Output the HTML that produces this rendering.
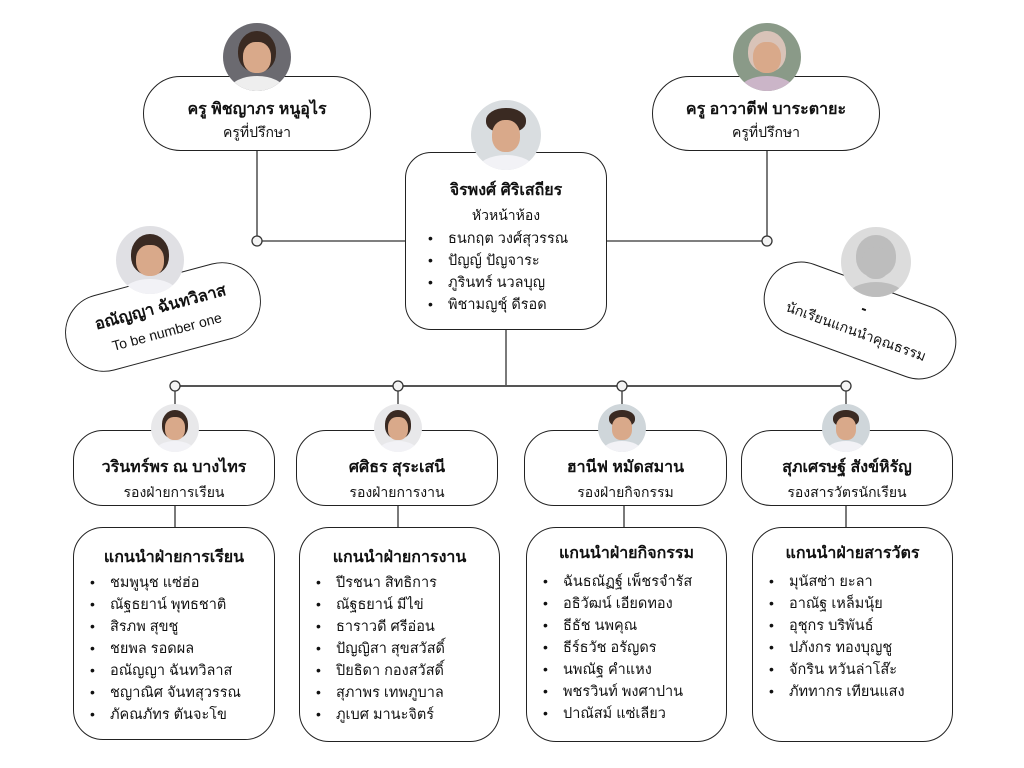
<!DOCTYPE html>
<html><head><meta charset="utf-8"><style>
body{margin:0;width:1024px;height:768px;background:#fff;position:relative;overflow:hidden;font-family:"Liberation Sans","Noto Sans CJK SC",sans-serif;color:#111}
.b{position:absolute;border:1.5px solid #222;background:#fff;box-sizing:border-box;text-align:center}
.n{font-weight:bold;font-size:16px}
.t{font-size:14px}
ul{list-style:none;margin:0;padding:0;text-align:left}
li{font-size:14.5px;height:22px;line-height:22px}
li:before{content:"•";display:inline-block;width:20px;font-size:14px}
.av{position:absolute;border-radius:50%;overflow:hidden;background:#e8e8ea}
.av .h{position:absolute;left:22%;top:12%;width:56%;height:60%;border-radius:50% 50% 45% 45%;background:#3a2a22}
.av .f{position:absolute;left:30%;top:28%;width:40%;height:46%;border-radius:45%;background:#d9a98a}
.av .s{position:absolute;left:10%;top:78%;width:80%;height:40%;border-radius:50% 50% 0 0;background:#f2f2f6}
</style></head><body>
<svg width="1024" height="768" style="position:absolute;left:0;top:0">
<g stroke="#333" stroke-width="1.3" fill="none">
<line x1="257" y1="150" x2="257" y2="236"/><line x1="262" y1="241" x2="405" y2="241"/>
<line x1="607" y1="241" x2="762" y2="241"/><line x1="767" y1="150" x2="767" y2="236"/>
<line x1="506" y1="330" x2="506" y2="386"/>
<line x1="175" y1="386" x2="846" y2="386" stroke-width="2" stroke="#555"/>
<line x1="175" y1="391" x2="175" y2="430"/><line x1="398" y1="391" x2="398" y2="430"/>
<line x1="622" y1="391" x2="622" y2="430"/><line x1="846" y1="391" x2="846" y2="430"/>
<line x1="175" y1="505" x2="175" y2="527"/><line x1="398" y1="505" x2="398" y2="527"/>
<line x1="624" y1="505" x2="624" y2="527"/><line x1="846" y1="505" x2="846" y2="527"/>
</g>
<g stroke="#333" stroke-width="1.3" fill="#f4f4f4">
<circle cx="257" cy="241" r="5"/><circle cx="767" cy="241" r="5"/>
<circle cx="175" cy="386" r="5"/><circle cx="398" cy="386" r="5"/><circle cx="622" cy="386" r="5"/><circle cx="846" cy="386" r="5"/>
</g></svg>

<div class="b" style="left:143px;top:76px;width:228px;height:75px;border-radius:38px;padding-top:20px"><div class="n">ครู พิชญาภร หนูอุไร</div><div class="t" style="margin-top:0px">ครูที่ปรึกษา</div></div>
<div class="b" style="left:652px;top:76px;width:228px;height:75px;border-radius:38px;padding-top:20px"><div class="n">ครู อาวาตีฟ บาระตายะ</div><div class="t" style="margin-top:0px">ครูที่ปรึกษา</div></div>
<div class="b" style="left:405px;top:152px;width:202px;height:178px;border-radius:26px;padding-top:25px"><div class="n">จิรพงศ์ ศิริเสถียร</div><div class="t" style="margin-top:2px">หัวหน้าห้อง</div>
<ul style="margin:0 0 0 22px"><li>ธนกฤต วงศ์สุวรรณ</li><li>ปัญญ์ ปัญจาระ</li><li>ภูรินทร์ นวลบุญ</li><li>พิชามญชุ์ ดีรอด</li></ul></div>

<div class="b" style="left:63px;top:278px;width:200px;height:78px;border-radius:39px;transform:rotate(-15deg);padding-top:16px"><div class="n">อณัญญา ฉันทวิลาส</div><div class="t" style="margin-top:4px">To be number one</div></div>
<div class="b" style="left:760px;top:283px;width:200px;height:75px;border-radius:38px;transform:rotate(20deg);padding-top:16px"><div class="n">-</div><div class="t" style="margin-top:4px">นักเรียนแกนนำคุณธรรม</div></div>

<div class="b" style="left:73px;top:430px;width:202px;height:76px;border-radius:30px;padding-top:24px"><div class="n">วรินทร์พร ณ บางไทร</div><div class="t" style="margin-top:2px">รองฝ่ายการเรียน</div></div>
<div class="b" style="left:296px;top:430px;width:202px;height:76px;border-radius:30px;padding-top:24px"><div class="n">ศศิธร สุระเสนี</div><div class="t" style="margin-top:2px">รองฝ่ายการงาน</div></div>
<div class="b" style="left:524px;top:430px;width:203px;height:76px;border-radius:30px;padding-top:24px"><div class="n">ฮานีฟ หมัดสมาน</div><div class="t" style="margin-top:2px">รองฝ่ายกิจกรรม</div></div>
<div class="b" style="left:741px;top:430px;width:212px;height:76px;border-radius:30px;padding-top:24px"><div class="n">สุภเศรษฐ์ สังข์หิรัญ</div><div class="t" style="margin-top:2px">รองสารวัตรนักเรียน</div></div>

<div class="b" style="left:73px;top:527px;width:202px;height:213px;border-radius:30px;padding-top:17px"><div class="n">แกนนำฝ่ายการเรียน</div><ul style="margin:1px 0 0 16px"><li>ชมพูนุช แซ่ฮ่อ</li><li>ณัฐธยาน์ พุทธชาติ</li><li>สิรภพ สุขชู</li><li>ชยพล รอดผล</li><li>อณัญญา ฉันทวิลาส</li><li>ชญาณิศ จันทสุวรรณ</li><li>ภัคณภัทร ตันจะโข</li></ul></div>
<div class="b" style="left:299px;top:527px;width:201px;height:215px;border-radius:30px;padding-top:17px"><div class="n">แกนนำฝ่ายการงาน</div><ul style="margin:1px 0 0 16px"><li>ปีรชนา สิทธิการ</li><li>ณัฐธยาน์ มีไข่</li><li>ธาราวดี ศรีอ่อน</li><li>ปัญญิสา สุขสวัสดิ์</li><li>ปิยธิดา กองสวัสดิ์</li><li>สุภาพร เทพภูบาล</li><li>ภูเบศ มานะจิตร์</li></ul></div>
<div class="b" style="left:526px;top:527px;width:201px;height:215px;border-radius:30px;padding-top:13px"><div class="n">แกนนำฝ่ายกิจกรรม</div><ul style="margin:4px 0 0 16px"><li>ฉันธณัฏฐ์ เพ็ชรจำรัส</li><li>อธิวัฒน์ เอียดทอง</li><li>ธีธัช นพคุณ</li><li>ธีร์ธวัช อรัญดร</li><li>นพณัฐ คำแหง</li><li>พชรวินท์ พงศาปาน</li><li>ปาณัสม์ แซ่เลียว</li></ul></div>
<div class="b" style="left:752px;top:527px;width:201px;height:215px;border-radius:30px;padding-top:13px"><div class="n">แกนนำฝ่ายสารวัตร</div><ul style="margin:4px 0 0 16px"><li>มุนัสซ่า ยะลา</li><li>อาณัฐ เหล็มนุ้ย</li><li>อุชุกร บริพันธ์</li><li>ปภังกร ทองบุญชู</li><li>จักริน หวันล่าโส๊ะ</li><li>ภัททากร เทียนแสง</li></ul></div>

<div class="av" style="left:223px;top:23px;width:68px;height:68px;background:#6b6a70"><div class="h"></div><div class="f"></div><div class="s" style="background:#eee"></div></div>
<div class="av" style="left:733px;top:23px;width:68px;height:68px;background:#8a9a88"><div class="h" style="background:#d9c3b8"></div><div class="f"></div><div class="s" style="background:#cbb5c8"></div></div>
<div class="av" style="left:471px;top:100px;width:70px;height:70px;background:#d9dde0"><div class="h" style="height:35%"></div><div class="f"></div><div class="s"></div></div>
<div class="av" style="left:116px;top:226px;width:68px;height:68px;background:#e0e0e4"><div class="h"></div><div class="f"></div><div class="s"></div></div>
<div class="av" style="left:841px;top:227px;width:70px;height:70px;background:#dcdcdc"><div class="h" style="background:#bdbdbd"></div><div class="f" style="background:#bdbdbd"></div><div class="s" style="background:#bdbdbd"></div></div>
<div class="av" style="left:151px;top:404px;width:48px;height:48px"><div class="h"></div><div class="f"></div><div class="s"></div></div>
<div class="av" style="left:374px;top:404px;width:48px;height:48px"><div class="h"></div><div class="f"></div><div class="s"></div></div>
<div class="av" style="left:598px;top:404px;width:48px;height:48px;background:#cfd6da"><div class="h" style="height:35%"></div><div class="f"></div><div class="s"></div></div>
<div class="av" style="left:822px;top:404px;width:48px;height:48px;background:#cfd6da"><div class="h" style="height:35%"></div><div class="f"></div><div class="s"></div></div>
</body></html>
